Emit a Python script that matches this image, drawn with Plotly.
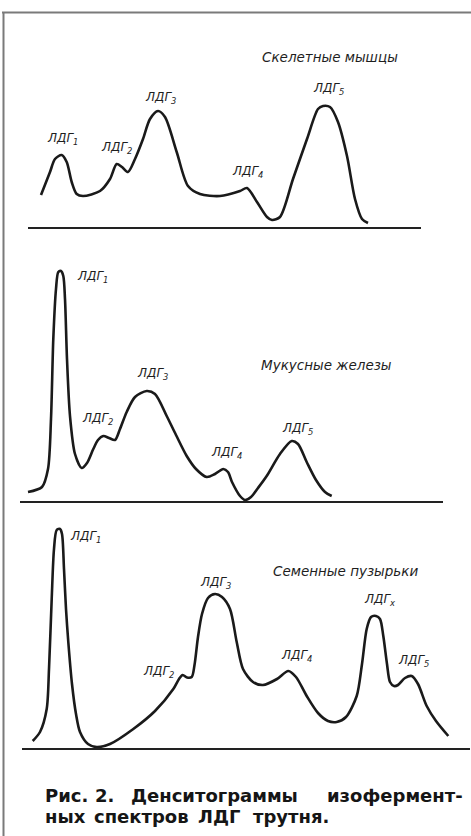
import plotly.graph_objects as go

W, H = 471, 836

# ---------------- data (migration distance, optical density; arbitrary units) ----------------
skel_x = [41, 50, 55, 61.7, 66.7, 71.7, 76.7, 83, 100, 110, 116.7, 122, 128, 135, 143, 150, 158, 165,
          176.7, 188, 200, 220, 240, 247, 257, 267, 272, 280, 293, 307, 318, 323, 330, 338, 347, 355, 362, 368]
skel_y = [31, 54, 67, 71, 64, 44, 32, 30, 35, 47, 62, 59, 54, 67, 87, 107, 115, 109,
          74, 40, 32, 30, 35, 38, 24, 9, 6, 9, 47, 87, 117, 120, 119, 104, 70, 27, 7, 3]

muc_x = [28, 42, 48, 51, 53.3, 56, 58.3, 61, 63.3, 65, 67, 70, 75, 81.7, 87, 93.3, 98, 103.3, 109, 115,
         120, 126.7, 135, 146.7, 155, 166.7, 176, 186.7, 196, 206.7, 215, 223.3, 228, 232, 240, 245,
         251, 258, 266.7, 280, 291.7, 298, 306.7, 316, 325, 331.7]
muc_y = [8, 13, 31, 81, 161, 211, 228, 229, 224, 201, 141, 84, 46, 32, 37, 51, 60, 64, 62, 60,
         71, 88, 103, 109, 106, 84, 65, 44, 31, 23, 26, 31, 28, 18, 4, 0,
         3, 12, 24, 46, 59, 56, 38, 20, 8, 4]

sem_x = [32.7, 40, 46.7, 49, 51.7, 54, 56.7, 60, 62, 64, 66, 68.3, 72, 76, 80, 88, 96.7, 110, 133.3,
         155, 173.3, 179, 182.7, 187, 191.7, 194.5, 198, 202, 208, 215, 222, 230, 236.7, 243, 253,
         263, 277, 288.3, 296, 306.7, 318, 328, 336.7, 346, 356.7, 362, 366.7, 371, 376, 380,
         383.3, 387, 390, 394, 398, 405, 411.7, 418, 426.7, 436, 448.3]
sem_y = [6, 15, 38, 78, 148, 198, 217, 218, 213, 178, 138, 105, 63, 33, 15, 3, 0, 3, 18,
         36, 58, 68, 72, 69.5, 70, 82, 110, 133, 149, 153, 150, 138, 105, 78, 65,
         62, 68, 76, 70, 51, 34, 26, 25, 30, 51, 83, 118, 130, 131, 128,
         111, 83, 65, 61, 62, 69, 71, 63, 41, 26, 11]

panel_titles = ["Скелетные мышцы", "Мукусные железы", "Семенные пузырьки"]

# peak labels: (text, x, density)
skel_labels = [("ЛДГ<sub>1</sub>", 62, 87), ("ЛДГ<sub>2</sub>", 116, 78), ("ЛДГ<sub>3</sub>", 160, 128),
               ("ЛДГ<sub>4</sub>", 247, 54), ("ЛДГ<sub>5</sub>", 328, 137)]
muc_labels = [("ЛДГ<sub>1</sub>", 92, 223), ("ЛДГ<sub>2</sub>", 97, 81), ("ЛДГ<sub>3</sub>", 152, 126),
              ("ЛДГ<sub>4</sub>", 226, 47), ("ЛДГ<sub>5</sub>", 297, 71)]
sem_labels = [("ЛДГ<sub>1</sub>", 85, 210), ("ЛДГ<sub>2</sub>", 158, 75), ("ЛДГ<sub>3</sub>", 215, 164),
              ("ЛДГ<sub>4</sub>", 296, 91), ("ЛДГ<sub>x</sub>", 380, 147), ("ЛДГ<sub>5</sub>", 413, 86)]
title_pos = [(330, 169), (326, 135), (345, 176)]

caption_line1 = ["Рис.", "2.", "Денситограммы", "изофермент-"]
caption_line2 = ["ных", "спектров", "ЛДГ", "трутня."]

# ---------------- layout geometry (pixels) ----------------
panels = [
    dict(xs=skel_x, ys=skel_y, labels=skel_labels, base=227, top=40, x0=28, x1=421),
    dict(xs=muc_x, ys=muc_y, labels=muc_labels, base=501, top=262, x0=20, x1=443),
    dict(xs=sem_x, ys=sem_y, labels=sem_labels, base=748, top=518, x0=22, x1=470),
]

fig = go.Figure()
layout = dict(
    width=W, height=H, margin=dict(l=0, r=0, t=0, b=0),
    paper_bgcolor="white", plot_bgcolor="rgba(0,0,0,0)", showlegend=False,
)
annotations = []
label_font = dict(family="DejaVu Sans", size=12, color="#1e1e1e", style="italic")
title_font = dict(family="DejaVu Sans", size=13.5, color="#1e1e1e", style="italic")

for i, p in enumerate(panels):
    n = "" if i == 0 else str(i + 1)
    xa, ya = "x" + n, "y" + n
    fig.add_trace(go.Scatter(x=p["xs"], y=p["ys"], mode="lines", xaxis=xa, yaxis=ya,
                             line=dict(color="#1a1a1a", width=2.6, shape="spline", smoothing=0.8),
                             hoverinfo="skip", cliponaxis=False))
    layout["xaxis" + n] = dict(domain=[p["x0"] / W, p["x1"] / W], range=[p["x0"], p["x1"]],
                               anchor=ya, showline=True, linecolor="#222", linewidth=1.6,
                               showticklabels=False, ticks="", showgrid=False, zeroline=False)
    layout["yaxis" + n] = dict(domain=[(H - p["base"]) / H, (H - p["top"]) / H],
                               range=[-1, p["base"] - p["top"] - 1], anchor=xa,
                               showline=False, showticklabels=False, ticks="", showgrid=False,
                               zeroline=False)
    for txt, lx, ly in p["labels"]:
        annotations.append(dict(text=txt, x=lx, y=ly, xref=xa, yref=ya, showarrow=False,
                                xanchor="center", yanchor="middle", font=label_font))
    tx, ty = title_pos[i]
    annotations.append(dict(text=panel_titles[i], x=tx, y=ty, xref=xa, yref=ya, showarrow=False,
                            xanchor="center", yanchor="middle", font=title_font))

# caption words (line 1 justified, line 2 left-aligned)
cap_font = dict(family="DejaVu Sans", size=18, color="#151515", weight="bold")
cap1_pos = [(43, "left"), (93, "left"), (214, "center"), (465, "right")]
cap2_pos = [(43, "left"), (92, "left"), (196, "left"), (251, "left")]
for words, poss, cy in [(caption_line1, cap1_pos, 795), (caption_line2, cap2_pos, 816)]:
    for w, (px, anc) in zip(words, poss):
        annotations.append(dict(text=w, x=px / W, y=1 - cy / H, xref="paper", yref="paper",
                                showarrow=False, xanchor=anc, yanchor="middle", font=cap_font))

layout["annotations"] = annotations
layout["shapes"] = [
    dict(type="line", xref="paper", yref="paper", x0=2 / W, x1=1, y0=1 - 12.5 / H, y1=1 - 12.5 / H,
         line=dict(color="#7a7a7a", width=2)),
    dict(type="line", xref="paper", yref="paper", x0=3.5 / W, x1=3.5 / W, y0=0, y1=1 - 12 / H,
         line=dict(color="#7a7a7a", width=2)),
]
fig.update_layout(**layout)
fig.write_html("out.html")
